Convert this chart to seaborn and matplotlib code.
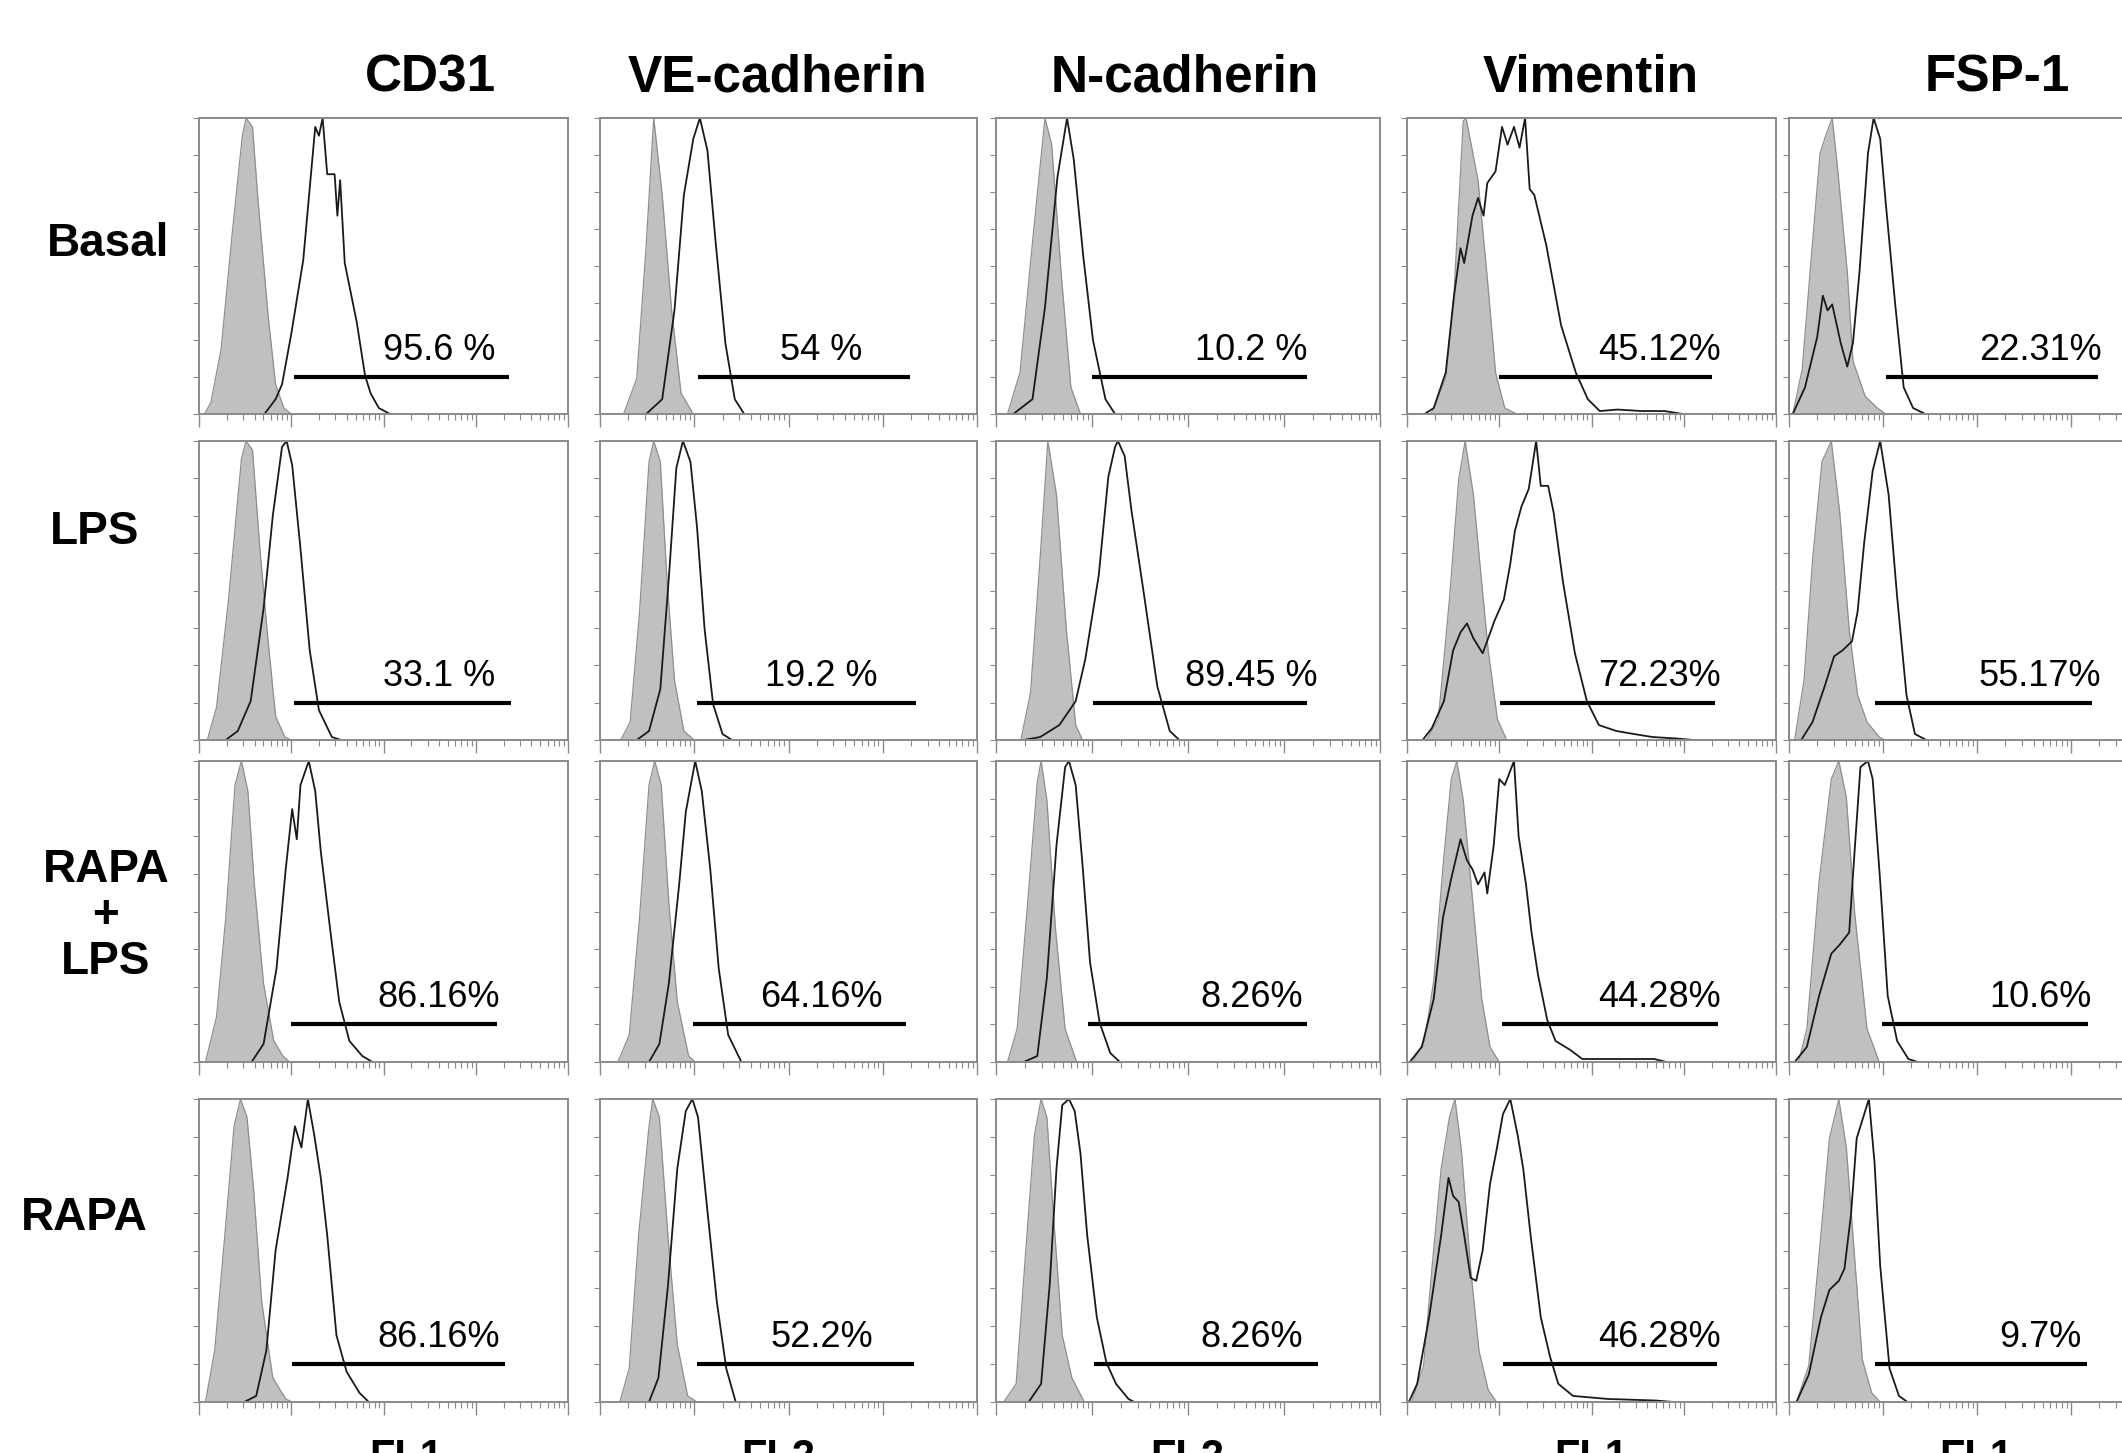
import numpy as np
import matplotlib
matplotlib.use("Agg")
import matplotlib.pyplot as plt
import seaborn as sns

# ---- data: histogram outlines, x in log10 decades (0-4), y as fraction of modal count ----
# iso = isotype control (grey filled), ab = stained sample (open black line)

# Basal
basal_cd31_iso = [(0.06, 0), (0.13, 0.04), (0.24, 0.22), (0.36, 0.61), (0.47, 0.94), (0.51, 1.0), (0.58, 0.97),
                  (0.64, 0.72), (0.75, 0.33), (0.83, 0.10), (0.92, 0.02), (1.0, 0)]
basal_cd31_ab = [(0.71, 0), (0.83, 0.05), (0.90, 0.10), (1.0, 0.27), (1.13, 0.52), (1.26, 0.97), (1.30, 0.94),
                 (1.34, 1.0), (1.39, 0.81), (1.47, 0.81), (1.50, 0.67), (1.53, 0.79), (1.58, 0.51), (1.71, 0.31),
                 (1.80, 0.13), (1.86, 0.07), (1.95, 0.02), (2.07, 0)]
basal_ve_iso = [(0.25, 0), (0.39, 0.12), (0.49, 0.57), (0.57, 1.0), (0.66, 0.74), (0.76, 0.35), (0.86, 0.07), (0.99, 0)]
basal_ve_ab = [(0.49, 0), (0.66, 0.05), (0.79, 0.35), (0.89, 0.74), (0.99, 0.93), (1.06, 1.0), (1.14, 0.89),
               (1.23, 0.57), (1.33, 0.24), (1.43, 0.05), (1.53, 0)]
basal_ncad_iso = [(0.12, 0), (0.25, 0.14), (0.38, 0.58), (0.51, 1.0), (0.58, 0.91), (0.68, 0.47), (0.78, 0.09), (0.88, 0)]
basal_ncad_ab = [(0.18, 0), (0.38, 0.05), (0.51, 0.36), (0.64, 0.80), (0.74, 1.0), (0.81, 0.86), (0.91, 0.53),
                 (1.01, 0.25), (1.14, 0.05), (1.24, 0)]
basal_vim_iso = [(0.26, 0), (0.42, 0.12), (0.51, 0.41), (0.61, 0.99), (0.64, 1.0), (0.77, 0.79), (0.87, 0.46),
                 (0.96, 0.14), (1.06, 0.02), (1.19, 0)]
basal_vim_ab = [(0.19, 0), (0.29, 0.02), (0.42, 0.14), (0.51, 0.40), (0.58, 0.56), (0.62, 0.51), (0.71, 0.67),
                (0.77, 0.73), (0.83, 0.67), (0.87, 0.78), (0.96, 0.82), (1.03, 0.97), (1.09, 0.91), (1.16, 0.97),
                (1.22, 0.90), (1.28, 1.0), (1.33, 0.76), (1.38, 0.74), (1.51, 0.57), (1.67, 0.30), (1.83, 0.14),
                (1.96, 0.05), (2.09, 0.01), (2.28, 0.015), (2.54, 0.01), (2.79, 0.01), (2.99, 0)]
basal_fsp_iso = [(0.04, 0), (0.14, 0.15), (0.24, 0.54), (0.33, 0.88), (0.39, 0.94), (0.46, 1.0), (0.52, 0.82),
                 (0.62, 0.48), (0.68, 0.18), (0.81, 0.06), (0.94, 0.02), (1.03, 0)]
basal_fsp_ab = [(0.04, 0), (0.17, 0.09), (0.30, 0.26), (0.36, 0.40), (0.41, 0.35), (0.46, 0.37), (0.55, 0.24),
                (0.62, 0.16), (0.68, 0.24), (0.75, 0.48), (0.84, 0.88), (0.90, 1.0), (0.97, 0.93), (1.03, 0.71),
                (1.13, 0.37), (1.22, 0.09), (1.32, 0.02), (1.45, 0)]

# LPS
lps_cd31_iso = [(0.09, 0), (0.19, 0.11), (0.32, 0.47), (0.46, 0.94), (0.51, 1.0), (0.58, 0.97), (0.66, 0.64),
                (0.74, 0.36), (0.83, 0.08), (0.93, 0.01), (1.0, 0)]
lps_cd31_ab = [(0.29, 0), (0.42, 0.03), (0.56, 0.13), (0.70, 0.44), (0.80, 0.75), (0.90, 0.98), (0.95, 1.0),
               (1.01, 0.92), (1.10, 0.64), (1.20, 0.30), (1.30, 0.10), (1.44, 0.01), (1.54, 0)]
lps_ve_iso = [(0.22, 0), (0.32, 0.06), (0.42, 0.43), (0.52, 0.93), (0.57, 1.0), (0.64, 0.93), (0.71, 0.54),
              (0.79, 0.20), (0.89, 0.03), (1.0, 0)]
lps_ve_ab = [(0.39, 0), (0.52, 0.03), (0.64, 0.17), (0.73, 0.54), (0.81, 0.91), (0.88, 1.0), (0.96, 0.93),
             (1.03, 0.71), (1.11, 0.37), (1.20, 0.12), (1.30, 0.02), (1.40, 0)]
lps_ncad_iso = [(0.26, 0), (0.36, 0.16), (0.46, 0.61), (0.54, 1.0), (0.63, 0.82), (0.73, 0.38), (0.83, 0.05), (0.90, 0)]
lps_ncad_ab = [(0.29, 0), (0.46, 0.01), (0.66, 0.05), (0.83, 0.13), (0.93, 0.27), (1.07, 0.55), (1.17, 0.88),
               (1.24, 0.98), (1.27, 1.0), (1.34, 0.95), (1.41, 0.77), (1.54, 0.49), (1.68, 0.18), (1.81, 0.03),
               (1.91, 0)]
lps_vim_iso = [(0.21, 0), (0.34, 0.07), (0.46, 0.47), (0.56, 0.87), (0.63, 1.0), (0.72, 0.82), (0.79, 0.59),
               (0.88, 0.30), (0.98, 0.07), (1.08, 0)]
lps_vim_ab = [(0.17, 0), (0.27, 0.04), (0.40, 0.13), (0.50, 0.30), (0.58, 0.36), (0.65, 0.39), (0.72, 0.34),
              (0.82, 0.29), (0.88, 0.34), (0.95, 0.40), (1.05, 0.47), (1.12, 0.59), (1.17, 0.70), (1.24, 0.78),
              (1.32, 0.84), (1.40, 1.0), (1.45, 0.85), (1.53, 0.85), (1.59, 0.76), (1.69, 0.53), (1.82, 0.29),
              (1.95, 0.13), (2.08, 0.05), (2.27, 0.03), (2.46, 0.02), (2.66, 0.01), (2.92, 0.005), (3.11, 0)]
lps_fsp_iso = [(0.06, 0), (0.16, 0.20), (0.25, 0.60), (0.35, 0.93), (0.45, 1.0), (0.54, 0.76), (0.64, 0.37),
               (0.73, 0.15), (0.83, 0.06), (0.96, 0.01), (1.02, 0)]
lps_fsp_ab = [(0.13, 0), (0.25, 0.06), (0.38, 0.18), (0.48, 0.28), (0.57, 0.30), (0.67, 0.33), (0.73, 0.43),
              (0.80, 0.66), (0.89, 0.90), (0.97, 1.0), (1.06, 0.82), (1.15, 0.48), (1.25, 0.15), (1.34, 0.02),
              (1.46, 0)]

# RAPA + LPS
rapalps_cd31_iso = [(0.07, 0), (0.19, 0.15), (0.29, 0.48), (0.39, 0.92), (0.46, 1.0), (0.53, 0.90), (0.60, 0.59),
                    (0.70, 0.26), (0.81, 0.07), (0.91, 0.02), (0.98, 0)]
rapalps_cd31_ab = [(0.57, 0), (0.70, 0.06), (0.84, 0.31), (0.94, 0.64), (1.01, 0.84), (1.06, 0.74), (1.10, 0.92),
                   (1.19, 1.0), (1.26, 0.90), (1.32, 0.70), (1.43, 0.42), (1.52, 0.20), (1.63, 0.07), (1.77, 0.02),
                   (1.88, 0)]
rapalps_ve_iso = [(0.19, 0), (0.31, 0.09), (0.42, 0.48), (0.52, 0.92), (0.58, 1.0), (0.65, 0.92), (0.73, 0.53),
                  (0.82, 0.20), (0.94, 0.02), (1.01, 0)]
rapalps_ve_ab = [(0.52, 0), (0.63, 0.06), (0.73, 0.26), (0.84, 0.59), (0.91, 0.83), (1.01, 1.0), (1.08, 0.90),
                 (1.17, 0.64), (1.26, 0.31), (1.36, 0.09), (1.50, 0)]
rapalps_ncad_iso = [(0.12, 0), (0.22, 0.11), (0.32, 0.49), (0.43, 0.93), (0.47, 1.0), (0.53, 0.87), (0.62, 0.44),
                    (0.72, 0.11), (0.84, 0)]
rapalps_ncad_ab = [(0.29, 0), (0.43, 0.02), (0.53, 0.28), (0.63, 0.72), (0.72, 0.98), (0.76, 1.0), (0.83, 0.92),
                   (0.90, 0.66), (0.98, 0.33), (1.08, 0.13), (1.19, 0.03), (1.29, 0)]
rapalps_vim_iso = [(0.06, 0), (0.19, 0.07), (0.29, 0.27), (0.39, 0.65), (0.48, 0.94), (0.54, 1.0), (0.61, 0.87),
                   (0.71, 0.54), (0.81, 0.21), (0.90, 0.05), (1.0, 0)]
rapalps_vim_ab = [(0.03, 0), (0.16, 0.05), (0.29, 0.21), (0.39, 0.48), (0.48, 0.61), (0.58, 0.74), (0.65, 0.67),
                  (0.71, 0.64), (0.77, 0.59), (0.84, 0.63), (0.87, 0.56), (0.94, 0.72), (1.0, 0.94), (1.06, 0.92),
                  (1.16, 1.0), (1.21, 0.75), (1.29, 0.59), (1.35, 0.43), (1.42, 0.29), (1.52, 0.14), (1.61, 0.07),
                  (1.77, 0.04), (1.90, 0.01), (2.16, 0.01), (2.42, 0.01), (2.68, 0.01), (2.81, 0)]
rapalps_fsp_iso = [(0.10, 0), (0.19, 0.11), (0.32, 0.60), (0.45, 0.94), (0.53, 1.0), (0.61, 0.88), (0.70, 0.49),
                   (0.83, 0.11), (0.96, 0)]
rapalps_fsp_ab = [(0.06, 0), (0.19, 0.05), (0.32, 0.22), (0.45, 0.36), (0.54, 0.39), (0.64, 0.43), (0.70, 0.71),
                  (0.76, 0.98), (0.84, 1.0), (0.89, 0.94), (0.97, 0.60), (1.05, 0.22), (1.15, 0.07), (1.27, 0.01),
                  (1.37, 0)]

# RAPA
rapa_cd31_iso = [(0.07, 0), (0.17, 0.17), (0.28, 0.55), (0.38, 0.91), (0.45, 1.0), (0.52, 0.94), (0.59, 0.71),
                 (0.68, 0.33), (0.80, 0.08), (0.94, 0.01), (1.01, 0)]
rapa_cd31_ab = [(0.49, 0), (0.62, 0.02), (0.73, 0.17), (0.83, 0.50), (0.96, 0.74), (1.04, 0.91), (1.11, 0.84),
                (1.18, 1.0), (1.25, 0.88), (1.32, 0.74), (1.39, 0.55), (1.49, 0.22), (1.60, 0.10), (1.74, 0.03),
                (1.84, 0)]
rapa_ve_iso = [(0.21, 0), (0.31, 0.11), (0.41, 0.55), (0.52, 0.91), (0.56, 1.0), (0.63, 0.94), (0.72, 0.55),
               (0.82, 0.19), (0.93, 0.02), (1.03, 0)]
rapa_ve_ab = [(0.52, 0), (0.62, 0.08), (0.72, 0.38), (0.82, 0.77), (0.91, 0.96), (0.98, 1.0), (1.04, 0.94),
              (1.13, 0.66), (1.24, 0.33), (1.34, 0.11), (1.44, 0)]
rapa_ncad_iso = [(0.08, 0), (0.21, 0.06), (0.31, 0.50), (0.40, 0.88), (0.47, 1.0), (0.53, 0.94), (0.60, 0.61),
                 (0.69, 0.22), (0.79, 0.08), (0.92, 0)]
rapa_ncad_ab = [(0.34, 0), (0.47, 0.06), (0.56, 0.39), (0.63, 0.77), (0.69, 0.98), (0.76, 1.0), (0.82, 0.96),
                (0.88, 0.82), (0.95, 0.55), (1.05, 0.28), (1.15, 0.13), (1.25, 0.06), (1.38, 0.01), (1.44, 0)]
rapa_vim_iso = [(0.05, 0), (0.18, 0.12), (0.27, 0.44), (0.37, 0.77), (0.46, 0.94), (0.52, 1.0), (0.59, 0.83),
                (0.69, 0.44), (0.78, 0.17), (0.88, 0.04), (0.97, 0)]
rapa_vim_ab = [(0.02, 0), (0.11, 0.06), (0.24, 0.28), (0.37, 0.55), (0.45, 0.74), (0.50, 0.68), (0.56, 0.66),
               (0.62, 0.55), (0.69, 0.41), (0.75, 0.40), (0.82, 0.50), (0.90, 0.72), (0.97, 0.83), (1.04, 0.95),
               (1.12, 1.0), (1.20, 0.88), (1.26, 0.77), (1.34, 0.55), (1.45, 0.28), (1.55, 0.15), (1.64, 0.06),
               (1.80, 0.02), (2.18, 0.01), (2.69, 0.005), (2.89, 0)]
rapa_fsp_iso = [(0.08, 0), (0.21, 0.12), (0.31, 0.45), (0.43, 0.87), (0.53, 1.0), (0.61, 0.84), (0.69, 0.51),
                (0.78, 0.14), (0.88, 0.03), (0.97, 0)]
rapa_fsp_ab = [(0.08, 0), (0.21, 0.09), (0.34, 0.28), (0.43, 0.37), (0.53, 0.40), (0.59, 0.44), (0.66, 0.62),
               (0.72, 0.87), (0.78, 0.93), (0.85, 1.0), (0.91, 0.79), (0.97, 0.45), (1.07, 0.11), (1.17, 0.02),
               (1.26, 0)]

markers = ["CD31", "VE-cadherin", "N-cadherin", "Vimentin", "FSP-1"]
channels = ["FL1", "FL2", "FL2", "FL1", "FL1"]
conditions = ["Basal", "LPS", "RAPA\n+\nLPS", "RAPA"]

iso_curves = [
    [basal_cd31_iso, basal_ve_iso, basal_ncad_iso, basal_vim_iso, basal_fsp_iso],
    [lps_cd31_iso, lps_ve_iso, lps_ncad_iso, lps_vim_iso, lps_fsp_iso],
    [rapalps_cd31_iso, rapalps_ve_iso, rapalps_ncad_iso, rapalps_vim_iso, rapalps_fsp_iso],
    [rapa_cd31_iso, rapa_ve_iso, rapa_ncad_iso, rapa_vim_iso, rapa_fsp_iso],
]
ab_curves = [
    [basal_cd31_ab, basal_ve_ab, basal_ncad_ab, basal_vim_ab, basal_fsp_ab],
    [lps_cd31_ab, lps_ve_ab, lps_ncad_ab, lps_vim_ab, lps_fsp_ab],
    [rapalps_cd31_ab, rapalps_ve_ab, rapalps_ncad_ab, rapalps_vim_ab, rapalps_fsp_ab],
    [rapa_cd31_ab, rapa_ve_ab, rapa_ncad_ab, rapa_vim_ab, rapa_fsp_ab],
]

percent_labels = [
    ["95.6 %", "54 %", "10.2 %", "45.12%", "22.31%"],
    ["33.1 %", "19.2 %", "89.45 %", "72.23%", "55.17%"],
    ["86.16%", "64.16%", "8.26%", "44.28%", "10.6%"],
    ["86.16%", "52.2%", "8.26%", "46.28%", "9.7%"],
]
gates = [
    [(1.03, 3.36), (1.04, 3.29), (1.00, 3.24), (1.00, 3.31), (1.03, 3.29)],
    [(1.03, 3.38), (1.03, 3.35), (1.01, 3.24), (1.01, 3.34), (0.92, 3.22)],
    [(1.00, 3.23), (0.99, 3.25), (0.96, 3.24), (1.03, 3.37), (0.99, 3.18)],
    [(1.01, 3.32), (1.03, 3.33), (1.02, 3.35), (1.04, 3.36), (0.91, 3.17)],
]

# ---- layout (pixels of the 2122 x 1453 canvas) ----
W, H = 2122, 1453
col_left = [199, 600, 996, 1407, 1789]
col_right = [568, 977, 1380, 1776, 2165]
row_top = [118, 441, 761, 1099]
row_bot = [414, 740, 1062, 1402]
label_center = [2.6, 2.35, 2.66, 2.74, 2.67]

sns.set_style("white")
plt.rcParams["font.family"] = ["Liberation Sans", "DejaVu Sans"]
plt.rcParams["text.color"] = "black"

fig = plt.figure(figsize=(W / 100, H / 100), dpi=100)
frame_col = "#8a8a8a"

for r in range(4):
    for c in range(5):
        l, rr = col_left[c], col_right[c]
        t, b = row_top[r], row_bot[r]
        ax = fig.add_axes([l / W, 1 - b / H, (rr - l) / W, (b - t) / H])

        iso = np.array(iso_curves[r][c])
        ab = np.array(ab_curves[r][c])
        ax.fill_between(iso[:, 0], iso[:, 1], color="#c0c0c0", lw=0)
        ax.plot(iso[:, 0], iso[:, 1], color="#8f8f8f", lw=0.9)
        sns.lineplot(x=ab[:, 0], y=ab[:, 1], sort=False, estimator=None,
                     color="#1a1a1a", lw=1.3, ax=ax)

        g0, g1 = gates[r][c]
        ax.plot([g0, g1], [0.125, 0.125], color="black", lw=3, solid_capstyle="butt")
        ax.text(label_center[c], 0.155, percent_labels[r][c], ha="center", va="bottom",
                fontsize=26, color="black")

        ax.set_xlim(0, 4)
        ax.set_ylim(0, 1.0)
        ax.set_xticks(range(5))
        ax.set_xticks([d + np.log10(k) for d in range(4) for k in range(2, 10)], minor=True)
        ax.set_yticks(np.linspace(0, 1, 9))
        ax.set_xticklabels([])
        ax.set_yticklabels([])
        ax.tick_params(axis="x", which="major", direction="out", length=9, width=1, color=frame_col, bottom=True)
        ax.tick_params(axis="x", which="minor", direction="out", length=4, width=0.8, color=frame_col, bottom=True)
        ax.tick_params(axis="y", which="major", direction="out", length=4, width=0.8, color=frame_col, left=True)
        for sp in ax.spines.values():
            sp.set_color(frame_col)
            sp.set_linewidth(1.4)

# column titles
title_x = [430, 778, 1185, 1591, 1997]
for name, x in zip(markers, title_x):
    fig.text(x / W, 1 - 78 / H, name, ha="center", va="center", fontsize=37, fontweight="bold", color="black")

# row labels
row_lab_pos = [(108, 244), (95, 532), (106, 916), (84, 1218)]
for name, (x, y) in zip(conditions, row_lab_pos):
    fig.text(x / W, 1 - y / H, name, ha="center", va="center", fontsize=33, fontweight="bold",
             linespacing=1.05, color="black")

# channel labels at the bottom (cut by the canvas edge, as in the source figure)
chan_x = [406, 778, 1187, 1591, 1976]
for name, x in zip(channels, chan_x):
    fig.text(x / W, 1 - 1438 / H, name, ha="center", va="top", fontsize=30, fontweight="bold", color="black")

fig.savefig("out.png", dpi=100)
